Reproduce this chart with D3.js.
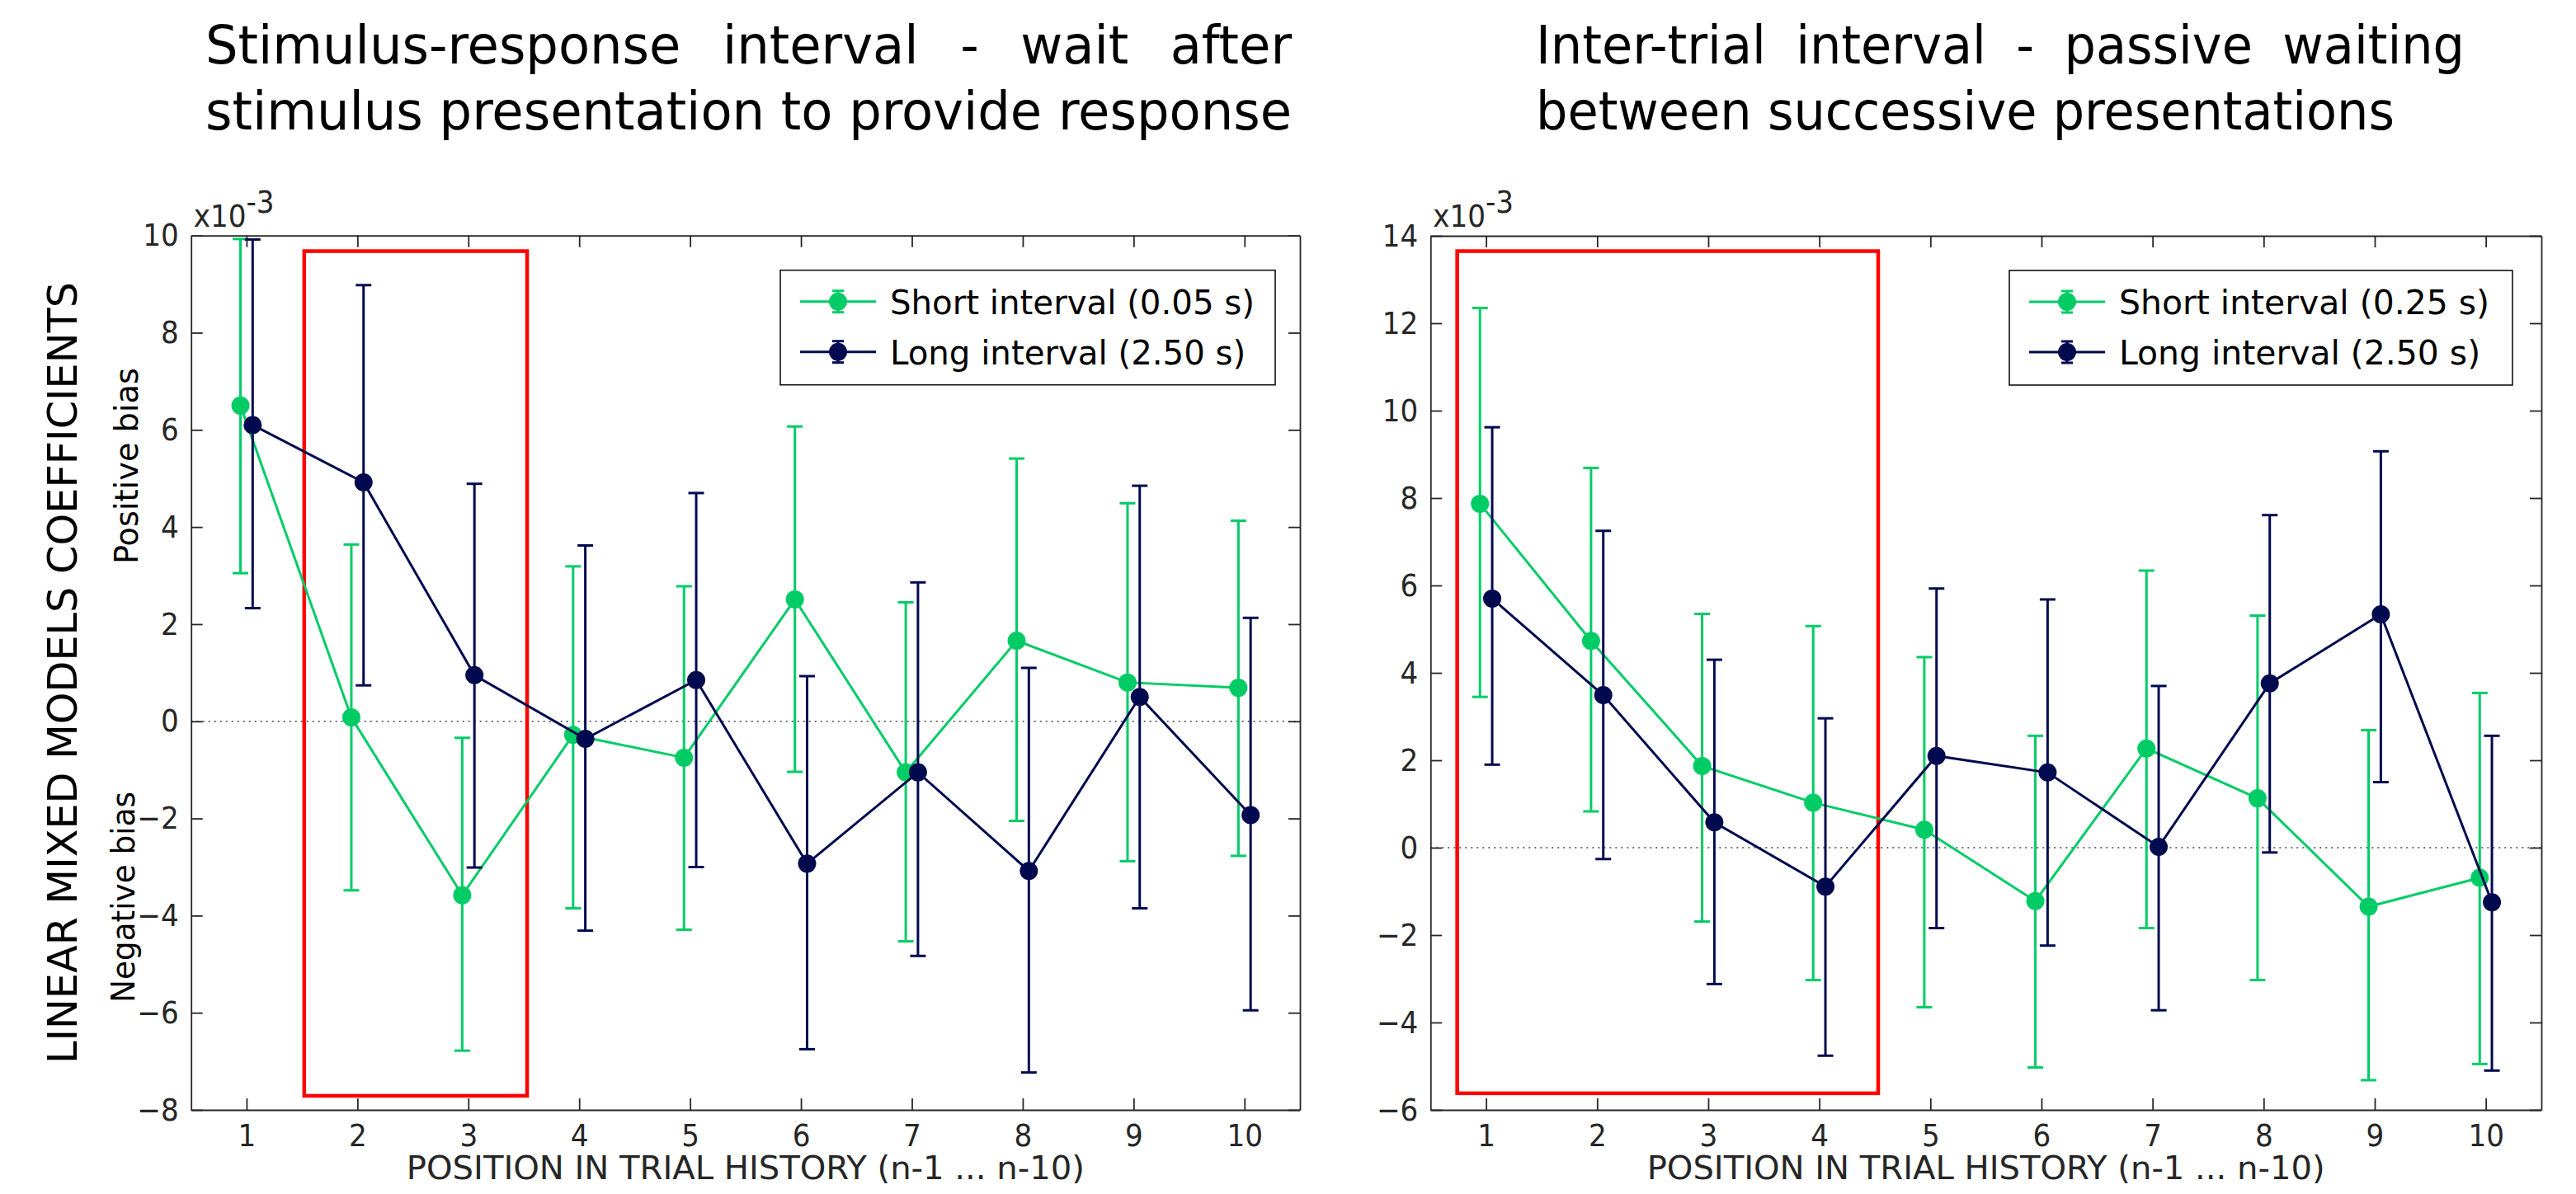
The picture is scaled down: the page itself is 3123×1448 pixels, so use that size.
<!DOCTYPE html>
<html lang="en">
<head>
<meta charset="UTF-8" />
<title>Trial history coefficients</title>
<script src="https://cdn.jsdelivr.net/npm/d3@7"></script>
<style>
body{margin:0;background:#fff;}
svg{display:block;background:#fff;}
.narrow{font-family:"DejaVu Sans Condensed","Liberation Sans Narrow","DejaVu Sans",sans-serif;}
.tick text{font-family:"DejaVu Sans Condensed","DejaVu Sans",sans-serif;fill:#262626;}
</style>
</head>
<body>
<svg id="chart" width="3123" height="1448"></svg>
<script>
const positions = [1,2,3,4,5,6,7,8,9,10];

// stimulus-response interval (left panel), x10^-3
const srShort   = [6.50, 0.08, -3.58, -0.28, -0.75, 2.51, -1.05, 1.66, 0.80, 0.69];
const srShortHi = [9.93, 3.64, -0.34, 3.19, 2.78, 6.07, 2.45, 5.41, 4.49, 4.13];
const srShortLo = [3.05, -3.48, -6.78, -3.85, -4.29, -1.04, -4.53, -2.05, -2.88, -2.77];
const srLong    = [6.10, 4.92, 0.95, -0.36, 0.85, -2.93, -1.05, -3.08, 0.50, -1.93];
const srLongHi  = [9.92, 8.98, 4.89, 3.62, 4.70, 0.93, 2.86, 1.10, 4.85, 2.13];
const srLongLo  = [2.33, 0.74, -3.01, -4.31, -3.00, -6.75, -4.83, -7.23, -3.85, -5.95];

// inter-trial interval (right panel), x10^-3
const itShort   = [7.87, 4.73, 1.87, 1.03, 0.41, -1.22, 2.27, 1.13, -1.35, -0.69];
const itShortHi = [12.35, 8.69, 5.35, 5.07, 4.36, 2.56, 6.34, 5.31, 2.69, 3.54];
const itShortLo = [3.45, 0.83, -1.69, -3.03, -3.65, -5.03, -1.84, -3.03, -5.32, -4.95];
const itLong    = [5.70, 3.49, 0.58, -0.89, 2.10, 1.72, 0.02, 3.76, 5.34, -1.25];
const itLongHi  = [9.62, 7.25, 4.30, 2.96, 5.93, 5.68, 3.70, 7.61, 9.07, 2.56];
const itLongLo  = [1.90, -0.26, -3.12, -4.76, -1.84, -2.24, -3.72, -0.11, 1.50, -5.10];

const yTicksSR = [-8,-6,-4,-2,0,2,4,6,8,10];
const yTicksIT = [-6,-4,-2,0,2,4,6,8,10,12,14];

// highlighted ranges [xFrom, xTo, yFrom, yTo]
const boxSR = [1.52, 3.53, -7.71, 9.68];
const boxIT = [0.74, 4.53, -5.62, 13.65];

const GREEN = '#00cc66', NAVY = '#020a4f';
const SW = 3;
const svg = d3.select('#chart');

function fit(sel, w){
  sel.attr('textLength', w).attr('lengthAdjust','spacingAndGlyphs');
  return sel;
}

function titleBlock(words1, line2, x0, x1, end2){
  const fs = 64;
  const t2 = svg.append('text').attr('class','narrow').attr('x',x0).attr('y',157)
    .attr('font-size',fs).attr('fill','#000').text(line2);
  const k = (end2 - x0) / t2.node().getComputedTextLength();
  fit(t2, end2 - x0);
  const nodes = words1.map(w => svg.append('text').attr('class','narrow').attr('y',77)
    .attr('font-size',fs).attr('fill','#000').text(w));
  const widths = nodes.map(n => n.node().getComputedTextLength() * k);
  const gap = (x1 - x0 - d3.sum(widths)) / (words1.length - 1);
  let cx = x0;
  nodes.forEach((n,i) => { n.attr('x', cx); fit(n, widths[i]); cx += widths[i] + gap; });
}

function errSeries(g, x, y, vals, hi, lo, dx, color){
  const s = g.append('g');
  const cap = 9.5;
  positions.forEach((p,i) => {
    const px = x(p + dx);
    s.append('line').attr('x1',px).attr('x2',px).attr('y1',y(lo[i])).attr('y2',y(hi[i]))
      .attr('stroke',color).attr('stroke-width',SW);
    [hi[i], lo[i]].forEach(v => s.append('line').attr('x1',px-cap).attr('x2',px+cap)
      .attr('y1',y(v)).attr('y2',y(v)).attr('stroke',color).attr('stroke-width',SW));
  });
  const line = d3.line().x((d,i) => x(positions[i] + dx)).y(d => y(d));
  s.append('path').datum(vals).attr('d', line).attr('fill','none')
    .attr('stroke',color).attr('stroke-width',SW);
  s.selectAll('circle').data(vals).join('circle')
    .attr('cx',(d,i) => x(positions[i] + dx)).attr('cy', d => y(d)).attr('r',11)
    .attr('fill',color);
}

function panel(p){
  const x = d3.scaleLinear().domain([0.5,10.5]).range([p.left,p.right]);
  const y = d3.scaleLinear().domain(p.yDomain).range([p.bottom,p.top]);
  const g = svg.append('g');

  g.append('line').attr('x1',x(0.5)).attr('x2',x(10.5)).attr('y1',y(0)).attr('y2',y(0))
    .attr('stroke','#444').attr('stroke-width',1.6).attr('stroke-dasharray','2 5');

  g.append('rect').attr('x',x(p.box[0])).attr('y',y(p.box[3]))
    .attr('width',x(p.box[1])-x(p.box[0])).attr('height',y(p.box[2])-y(p.box[3]))
    .attr('fill','none').attr('stroke','#ff0000').attr('stroke-width',4.5);

  const ax = [
    g.append('g').attr('transform',`translate(0,${p.bottom})`)
      .call(d3.axisBottom(x).tickValues(positions).tickSize(-14).tickSizeOuter(0).tickPadding(16)),
    g.append('g').attr('transform',`translate(0,${p.top})`)
      .call(d3.axisTop(x).tickValues(positions).tickSize(-14).tickSizeOuter(0).tickFormat('')),
    g.append('g').attr('transform',`translate(${p.left},0)`)
      .call(d3.axisLeft(y).tickValues(p.yTicks).tickSize(-14).tickSizeOuter(0).tickPadding(15)),
    g.append('g').attr('transform',`translate(${p.right},0)`)
      .call(d3.axisRight(y).tickValues(p.yTicks).tickSize(-14).tickSizeOuter(0).tickFormat(''))
  ];
  ax.forEach(a => {
    a.select('.domain').attr('stroke','#262626').attr('stroke-width',1.8);
    a.selectAll('.tick line').attr('stroke','#262626').attr('stroke-width',1.8);
    a.selectAll('.tick text').attr('font-size',38);
  });
  ax[0].selectAll('.tick text').attr('dy',0).attr('y',44);

  // exponent label
  const ex = g.append('text').attr('x',p.left+3).attr('y',p.top-11)
    .attr('font-family','"DejaVu Sans Condensed","DejaVu Sans",sans-serif')
    .attr('font-size',38).attr('fill','#262626');
  ex.append('tspan').text('x10');
  ex.append('tspan').attr('dy',-17).text('-3');

  fit(g.append('text').attr('class','narrow').attr('x',(p.left+p.right)/2).attr('y',1430)
    .attr('text-anchor','middle').attr('font-size',39).attr('fill','#262626')
    .text('POSITION IN TRIAL HISTORY (n-1 ... n-10)'), 822);

  errSeries(g, x, y, p.shortV, p.shortHi, p.shortLo, -0.055, GREEN);
  errSeries(g, x, y, p.longV, p.longHi, p.longLo, 0.055, NAVY);

  // legend
  const lx = p.right - p.legRight - p.legW, ly = p.top + 42;
  const lg = g.append('g').attr('transform',`translate(${lx},${ly})`);
  lg.append('rect').attr('width',p.legW).attr('height',139).attr('fill','#fff')
    .attr('stroke','#111').attr('stroke-width',1.6);
  let k = null;
  p.legend.forEach((lab,i) => {
    const cy = 38 + i*61, col = i ? NAVY : GREEN;
    lg.append('line').attr('x1',24).attr('x2',116).attr('y1',cy).attr('y2',cy)
      .attr('stroke',col).attr('stroke-width',SW);
    lg.append('line').attr('x1',70).attr('x2',70).attr('y1',cy-13).attr('y2',cy+13)
      .attr('stroke',col).attr('stroke-width',SW);
    [cy-13, cy+13].forEach(v => lg.append('line').attr('x1',63).attr('x2',77)
      .attr('y1',v).attr('y2',v).attr('stroke',col).attr('stroke-width',SW));
    lg.append('circle').attr('cx',70).attr('cy',cy).attr('r',11).attr('fill',col);
    const t = lg.append('text').attr('class','narrow').attr('x',133).attr('y',cy+15)
      .attr('font-size',41).attr('fill','#000').text(lab);
    const nat = t.node().getComputedTextLength();
    if (k === null) k = p.legTextW / nat;
    fit(t, nat * k);
  });
}

panel({left:231.7, right:1576, top:285.7, bottom:1346, yDomain:[-8,10], yTicks:yTicksSR,
  box:boxSR, shortV:srShort, shortHi:srShortHi, shortLo:srShortLo,
  longV:srLong, longHi:srLongHi, longLo:srLongLo,
  legend:['Short interval (0.05 s)','Long interval (2.50 s)'], legW:600, legRight:30, legTextW:442});

panel({left:1734.3, right:3081, top:286, bottom:1346, yDomain:[-6,14], yTicks:yTicksIT,
  box:boxIT, shortV:itShort, shortHi:itShortHi, shortLo:itShortLo,
  longV:itLong, longHi:itLongHi, longLo:itLongLo,
  legend:['Short interval (0.25 s)','Long interval (2.50 s)'], legW:610, legRight:35, legTextW:449});

titleBlock(['Stimulus-response','interval','-','wait','after'],
  'stimulus presentation to provide response', 249, 1566, 1566);
titleBlock(['Inter-trial','interval','-','passive','waiting'],
  'between successive presentations', 1862, 2988, 2903);

// y-axis labels
fit(svg.append('text').attr('class','narrow').attr('transform','translate(93,816) rotate(-90)')
  .attr('text-anchor','middle').attr('font-size',50).attr('fill','#000')
  .text('LINEAR MIXED MODELS COEFFICIENTS'), 948);
fit(svg.append('text').attr('class','narrow').attr('transform','translate(167,565) rotate(-90)')
  .attr('text-anchor','middle').attr('font-size',39).attr('fill','#000')
  .text('Positive bias'), 238);
fit(svg.append('text').attr('class','narrow').attr('transform','translate(163,1088) rotate(-90)')
  .attr('text-anchor','middle').attr('font-size',39).attr('fill','#000')
  .text('Negative bias'), 256);
</script>
</body>
</html>
